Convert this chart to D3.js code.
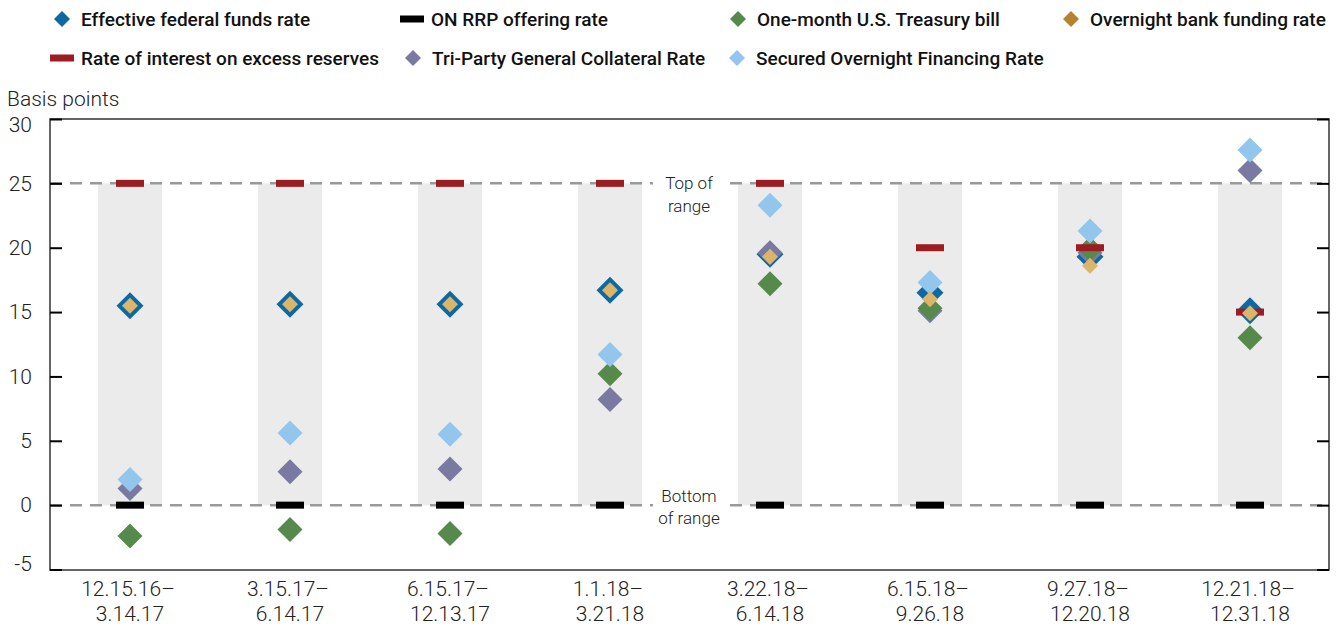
<!DOCTYPE html>
<html>
<head>
<meta charset="utf-8">
<script src="https://cdn.jsdelivr.net/npm/d3@7"></script>
<style>
  body { margin: 0; background: #fff; }
  text { font-family: Roboto, "Noto Sans", sans-serif; }
</style>
</head>
<body>
<div id="chart"></div>
<script>
(function(){

  var width = 1341;
  var height = 626;

  // periods (x categories), split into two lines for the labels
  var periods = ['12.15.16–3.14.17', '3.15.17–6.14.17', '6.15.17–12.13.17', '1.1.18–3.21.18',
                 '3.22.18–6.14.18', '6.15.18–9.26.18', '9.27.18–12.20.18', '12.21.18–12.31.18'];

  // basis points relative to the bottom of the target range
  var effr  = [15.5, 15.6, 15.6, 16.7, 19.5, 16.5, 19.3, 15.1];
  var onrrp = [0, 0, 0, 0, 0, 0, 0, 0];
  var tbill = [-2.4, -1.9, -2.2, 10.2, 17.2, 15.3, 19.9, 13.0];
  var obfr  = [15.5, 15.6, 15.6, 16.7, 19.3, 16.0, 18.6, 14.9];
  var ioer  = [25, 25, 25, 25, 25, 20, 20, 15];
  var tgcr  = [1.3, 2.6, 2.8, 8.2, 19.6, 15.1, 19.6, 26.0];
  var sofr  = [2.0, 5.6, 5.5, 11.7, 23.3, 17.3, 21.3, 27.6];

  var yTicks = [-5, 0, 5, 10, 15, 20, 25, 30];
  var rangeTop = 25;
  var rangeBottom = 0;

  var svg = d3.select('#chart')
        .append('svg')
        .attr('width', width)
        .attr('height', height);

  var x = d3.scaleBand().domain(periods).range([50, 1330]);
  var y = d3.scaleLinear().domain([-5, 30]).range([569.5, 119]);
  var cx = function(i){ return x(periods[i]) + x.bandwidth() / 2; };

  // grey target range bands
  svg.append('g').selectAll('rect')
      .data(periods)
      .enter()
      .append('rect')
        .attr('x', function(d){ return x(d) + x.bandwidth() / 2 - 32; })
        .attr('y', y(rangeTop))
        .attr('width', 64)
        .attr('height', y(rangeBottom) - y(rangeTop))
        .attr('fill', '#ebebeb');

  // dashed top / bottom of range lines
  svg.append('g').selectAll('line')
      .data([rangeTop, rangeBottom])
      .enter()
      .append('line')
        .attr('x1', 50).attr('x2', 1329)
        .attr('y1', function(d){ return y(d); })
        .attr('y2', function(d){ return y(d); })
        .attr('stroke', '#9a9a9a')
        .attr('stroke-width', 2.5)
        .attr('stroke-dasharray', '12,8');

  // range labels with white backing
  var rangeLabels = [
    {v: rangeTop, lines: ['Top of', 'range'], dy: [6, 29]},
    {v: rangeBottom, lines: ['Bottom', 'of range'], dy: [-3, 19]}
  ];
  rangeLabels.forEach(function(r){
    var g = svg.append('g');
    g.append('rect')
      .attr('x', 653).attr('y', y(r.v) - 4)
      .attr('width', 70).attr('height', 8)
      .attr('fill', '#fff');
    r.lines.forEach(function(t, k){
      g.append('text')
        .attr('x', 689)
        .attr('y', y(r.v) + r.dy[k])
        .attr('text-anchor', 'middle')
        .attr('font-size', '17px')
        .attr('font-weight', 300)
        .attr('fill', '#222')
        .text(t);
    });
  });

  var diamond = function(r){
    return 'M0,' + (-r) + 'L' + r + ',0L0,' + r + 'L' + (-r) + ',0Z';
  };

  var drawDiamonds = function(values, color, r){
    svg.append('g').selectAll('path')
        .data(values)
        .enter()
        .append('path')
          .attr('d', diamond(r))
          .attr('transform', function(d, i){ return 'translate(' + cx(i) + ',' + y(d) + ')'; })
          .attr('fill', color);
  };

  var drawBars = function(values, color){
    svg.append('g').selectAll('rect')
        .data(values)
        .enter()
        .append('rect')
          .attr('x', function(d, i){ return cx(i) - 14; })
          .attr('y', function(d){ return y(d) - 3.5; })
          .attr('width', 28)
          .attr('height', 7)
          .attr('fill', color);
  };

  drawDiamonds(effr, '#0d69a1', 13.5);
  drawDiamonds(tgcr, '#7a79a2', 12.5);
  drawDiamonds(tbill, '#568a4c', 12.5);
  drawBars(onrrp, '#000000');
  drawBars(ioer, '#9c1c21');
  drawDiamonds(sofr, '#93c6ec', 12.5);
  drawDiamonds(obfr, '#dcb56b', 8);

  // frame
  svg.append('rect')
      .attr('x', 50).attr('y', 119)
      .attr('width', 1279).attr('height', 451)
      .attr('fill', 'none')
      .attr('stroke', '#333')
      .attr('stroke-width', 1.5);

  // axes
  var yAxis = svg.append('g')
      .attr('transform', 'translate(50,0)')
      .call(d3.axisLeft(y).tickValues(yTicks).tickSize(-12).tickPadding(18)
              .tickFormat(function(d){ return String(d); }));
  yAxis.select('.domain').remove();
  yAxis.selectAll('line').attr('stroke', '#000').attr('stroke-width', 2);
  yAxis.selectAll('text')
      .attr('font-size', '21px')
      .attr('font-weight', 300)
      .attr('fill', '#222')
      .attr('font-family', 'Roboto, sans-serif')
      .attr('y', function(d){ return d == 30 ? 6 : (d == -5 ? -6 : 0); });

  var yAxisR = svg.append('g')
      .attr('transform', 'translate(1329,0)')
      .call(d3.axisRight(y).tickValues(yTicks).tickSize(-12).tickFormat(''));
  yAxisR.select('.domain').remove();
  yAxisR.selectAll('line').attr('stroke', '#000').attr('stroke-width', 2);

  var xAxis = svg.append('g')
      .attr('transform', 'translate(0,570)')
      .call(d3.axisBottom(x).tickSize(0).tickFormat(''));
  xAxis.select('.domain').remove();
  xAxis.selectAll('.tick').each(function(d){
    var parts = d.split('–');
    var t = d3.select(this).append('text')
        .attr('text-anchor', 'middle')
        .attr('font-size', '21px')
        .attr('font-weight', 300)
        .attr('fill', '#222')
        .attr('font-family', 'Roboto, sans-serif');
    t.append('tspan').attr('x', -2).attr('y', 26).text(parts[0] + '–');
    t.append('tspan').attr('x', 0).attr('y', 51).text(parts[1]);
  });

  svg.append('text')
      .attr('x', 7).attr('y', 106)
      .attr('font-size', '21px')
      .attr('font-weight', 300)
      .attr('fill', '#222')
      .text('Basis points');

  // legend
  var legendNames = ['Effective federal funds rate', 'ON RRP offering rate', 'One-month U.S. Treasury bill',
                     'Overnight bank funding rate', 'Rate of interest on excess reserves',
                     'Tri-Party General Collateral Rate', 'Secured Overnight Financing Rate'];
  var legendStyle = [
    {color: '#0d69a1', shape: 'diamond', x: 62, y: 19},
    {color: '#000000', shape: 'bar', x: 412, y: 19},
    {color: '#568a4c', shape: 'diamond', x: 738, y: 19},
    {color: '#b5832f', shape: 'diamond', x: 1071, y: 19},
    {color: '#9c1c21', shape: 'bar', x: 62, y: 58},
    {color: '#7a79a2', shape: 'diamond', x: 413, y: 58},
    {color: '#93c6ec', shape: 'diamond', x: 737, y: 58}
  ];

  var legend = svg.append('g').selectAll('g')
      .data(legendNames)
      .enter()
      .append('g')
        .attr('transform', function(d, i){ return 'translate(' + legendStyle[i].x + ',' + legendStyle[i].y + ')'; });

  legend.each(function(d, i){
    var g = d3.select(this);
    var s = legendStyle[i];
    if(s.shape == 'diamond'){
      g.append('path').attr('d', diamond(8)).attr('fill', s.color);
    } else {
      g.append('rect').attr('x', -12).attr('y', -3.5).attr('width', 24).attr('height', 7).attr('fill', s.color);
    }
    g.append('text')
      .attr('x', 19)
      .attr('y', 7)
      .attr('font-size', '19px')
      .attr('font-weight', 500)
      .attr('fill', '#111')
      .text(d);
  });

})();
</script>
</body>
</html>
